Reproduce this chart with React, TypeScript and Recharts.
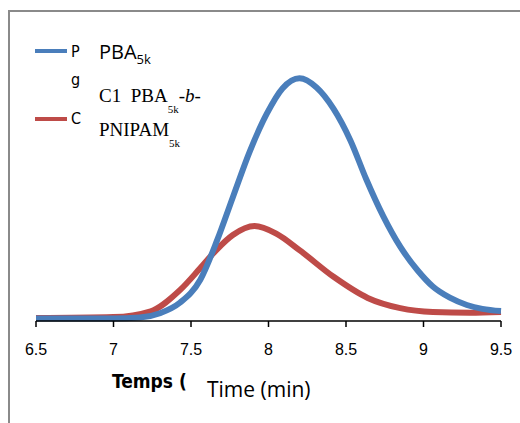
import React from 'react';
import { LineChart, Line, XAxis, YAxis } from 'recharts';

// retention time (min) vs normalised RI signal
const pbaTimes = [6.5, 7.0, 7.17, 7.3, 7.43, 7.56, 7.67, 7.77, 7.88, 7.99, 8.09, 8.2, 8.31, 8.42, 8.53, 8.63, 8.74, 8.85, 8.96, 9.06, 9.17, 9.28, 9.38, 9.5];
const pbaSignal = [0.01, 0.01, 0.014, 0.032, 0.076, 0.17, 0.335, 0.51, 0.7, 0.855, 0.958, 1.0, 0.962, 0.874, 0.742, 0.585, 0.432, 0.306, 0.21, 0.142, 0.096, 0.066, 0.05, 0.041];

const copoTimes = [6.5, 7.0, 7.24, 7.43, 7.56, 7.66, 7.77, 7.91, 8.05, 8.2, 8.42, 8.64, 8.85, 9.06, 9.3, 9.5];
const copoSignal = [0.012, 0.016, 0.04, 0.128, 0.218, 0.29, 0.354, 0.391, 0.36, 0.292, 0.182, 0.095, 0.053, 0.037, 0.034, 0.037];

const xTicks = [6.5, 7, 7.5, 8, 8.5, 9, 9.5];

const pbaData = pbaTimes.map((t, i) => ({ t, v: pbaSignal[i] }));
const copoData = copoTimes.map((t, i) => ({ t, v: copoSignal[i] }));

const BLUE = '#4A7EBB';
const RED = '#BE4B48';
const LEGEND_FONT = '"DejaVu Sans Condensed", "DejaVu Sans", sans-serif';

const abs = (left: number, top: number, extra: React.CSSProperties = {}): React.CSSProperties => ({
  position: 'absolute',
  left,
  top,
  whiteSpace: 'nowrap',
  lineHeight: 1,
  ...extra,
});

export default function App() {
  return (
    <div style={{ position: 'absolute', left: 0, top: 0, width: 520, height: 423, background: '#fff', overflow: 'hidden' }}>
      {/* frame: only top and left edges fall inside the picture */}
      <div style={{ position: 'absolute', left: 8, top: 10, width: 512, height: 1.5, background: '#8a8a8a' }} />
      <div style={{ position: 'absolute', left: 8, top: 10, width: 1.5, height: 413, background: '#8a8a8a' }} />

      <div style={{ position: 'absolute', left: 0, top: 0 }}>
        <LineChart width={520} height={423} data={pbaData} margin={{ top: 54, right: 19, bottom: 72, left: 36 }}>
          <XAxis
            type="number"
            dataKey="t"
            domain={[6.5, 9.5]}
            ticks={xTicks}
            interval={0}
            axisLine={{ stroke: '#000', strokeWidth: 1.5 }}
            tickLine={{ stroke: '#000', strokeWidth: 1.5 }}
            tickSize={6}
            tickMargin={17}
            height={30}
            tick={{ fill: '#000', fontSize: 16, fontFamily: '"Liberation Sans", Arial, sans-serif' }}
          />
          <YAxis type="number" domain={[0, 1.1]} hide />
          <Line data={copoData} dataKey="v" type="monotone" stroke={RED} strokeWidth={6} dot={false} isAnimationActive={false} />
          <Line data={pbaData} dataKey="v" type="monotone" stroke={BLUE} strokeWidth={6} dot={false} isAnimationActive={false} />
        </LineChart>
      </div>

      {/* legend (truncated in the original) */}
      <div style={{ position: 'absolute', left: 35, top: 49, width: 32, height: 4, background: BLUE }} />
      <div style={{ position: 'absolute', left: 35, top: 117, width: 32, height: 4, background: RED }} />
      <div style={abs(71, 44, { fontFamily: LEGEND_FONT, fontSize: 16 })}>P</div>
      <div style={abs(71, 72, { fontFamily: LEGEND_FONT, fontSize: 16 })}>g</div>
      <div style={abs(71, 111, { fontFamily: LEGEND_FONT, fontSize: 16 })}>C</div>

      {/* series names overlaid */}
      <div style={abs(99, 42, { fontFamily: '"Open Sans", sans-serif', fontSize: 20 })}>
        PBA<span style={{ fontSize: 13, position: 'relative', top: 5 }}>5k</span>
      </div>
      <div style={abs(99, 86, { fontFamily: '"Liberation Serif", "Times New Roman", serif', fontSize: 19 })}>
        C1&nbsp;&nbsp;PBA<span style={{ fontSize: 11, position: 'relative', top: 11 }}>5k</span>-<i>b</i>-
      </div>
      <div style={abs(99, 120, { fontFamily: '"Liberation Serif", "Times New Roman", serif', fontSize: 19 })}>
        PNIPAM<span style={{ fontSize: 11, position: 'relative', top: 11 }}>5k</span>
      </div>

      {/* axis titles */}
      <div style={abs(112, 372, { fontFamily: LEGEND_FONT, fontWeight: 'bold', fontSize: 19 })}>Temps (</div>
      <div style={abs(207, 379, { fontFamily: '"Open Sans", sans-serif', fontSize: 21 })}>Time (min)</div>
    </div>
  );
}
